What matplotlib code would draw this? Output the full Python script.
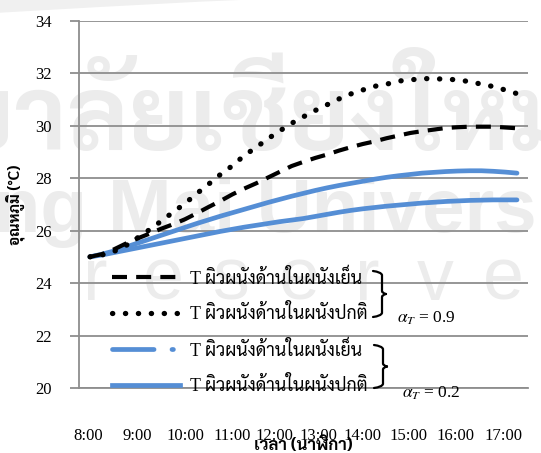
import numpy as np
import matplotlib
matplotlib.use('Agg')
import matplotlib.pyplot as plt
from matplotlib import font_manager as fm
from matplotlib.font_manager import FontProperties
from matplotlib.lines import Line2D
from matplotlib.path import Path
from matplotlib.patches import PathPatch, Polygon

# ---------------- data ----------------
hours = np.arange(8.0, 17.001, 0.25)          # 8:00 .. 17:00, every 15 min
t_cool_09 = [25.0, 25.1, 25.28, 25.5, 25.7, 25.88, 26.07, 26.24, 26.43, 26.66,
             26.9, 27.13, 27.38, 27.6, 27.8, 28.02, 28.24, 28.46, 28.62, 28.77,
             28.9, 29.05, 29.18, 29.3, 29.4, 29.52, 29.62, 29.72, 29.79, 29.85,
             29.91, 29.94, 29.96, 29.96, 29.96, 29.93, 29.9]
t_normal_09 = [25.0, 25.07, 25.2, 25.42, 25.72, 26.03, 26.36, 26.7, 27.03, 27.41,
               27.77, 28.14, 28.47, 28.86, 29.17, 29.5, 29.8, 30.09, 30.34, 30.58,
               30.8, 31.02, 31.21, 31.36, 31.5, 31.58, 31.7, 31.74, 31.8, 31.78,
               31.78, 31.74, 31.68, 31.58, 31.49, 31.36, 31.22]
t_cool_02 = [25.0, 25.1, 25.22, 25.37, 25.52, 25.67, 25.82, 25.97, 26.12, 26.27,
             26.41, 26.55, 26.68, 26.81, 26.94, 27.07, 27.19, 27.31, 27.42, 27.53,
             27.63, 27.72, 27.8, 27.88, 27.96, 28.03, 28.09, 28.14, 28.19, 28.22,
             28.25, 28.27, 28.28, 28.28, 28.26, 28.23, 28.19]
t_normal_02 = [25.0, 25.07, 25.16, 25.25, 25.34, 25.43, 25.52, 25.61, 25.7, 25.79,
               25.88, 25.97, 26.05, 26.13, 26.2, 26.27, 26.34, 26.4, 26.46, 26.54,
               26.62, 26.7, 26.77, 26.83, 26.88, 26.93, 26.97, 27.01, 27.05, 27.08,
               27.11, 27.13, 27.15, 27.16, 27.17, 27.17, 27.17]

y_ticks = [20, 22, 24, 26, 28, 30, 32, 34]
x_tick_labels = ['8:00', '9:00', '10:00', '11:00', '12:00', '13:00',
                 '14:00', '15:00', '16:00', '17:00']
series_labels = ['T ผิวผนังด้านในผนังเย็น', 'T ผิวผนังด้านในผนังปกติ',
                 'T ผิวผนังด้านในผนังเย็น', 'T ผิวผนังด้านในผนังปกติ']
alpha_labels = [r'$\alpha_T$ = 0.9', r'$\alpha_T$ = 0.2']
y_label = 'อุณหภูมิ (°C)'
x_label = 'เวลา (นาฬิกา)'

# ---------------- layout / style ----------------
x_label_pos = [7.958, 8.991, 10.003, 10.994, 11.88, 12.807, 13.735, 14.704, 15.695, 16.707]
W, H = 541, 453
BLUE = '#558ED5'
GRID = '#8e8e8e'

avail = {f.name for f in fm.fontManager.ttflist}
thai = next((n for n in ['Sarabun', 'Noto Serif Thai', 'Taviraj', 'Trirong',
                         'Noto Sans Thai Looped', 'Noto Sans Thai'] if n in avail), 'DejaVu Sans')
plt.rcParams['font.family'] = ['Liberation Serif', thai, 'DejaVu Sans']
plt.rcParams['mathtext.fontset'] = 'stix'

fig = plt.figure(figsize=(W / 100, H / 100), dpi=100)


def fp(px, py):
    return (px / W, 1 - py / H)


# watermark (behind everything)
wm = '#ececec'
fig.add_artist(Polygon([fp(0, 0), fp(0, 12.7), fp(100, 7), fp(200, 1.7), fp(240, 0)],
                       closed=True, transform=fig.transFigure, facecolor='#f0f0f0',
                       edgecolor='none', zorder=-6))
fig.text(*fp(575, 150), 'มหาวิทยาลัยเชียงใหม่', fontsize=74, color=wm,
         ha='right', va='baseline', family=[thai], weight='bold', zorder=-5)
fig.text(*fp(108, 232), 'Mai University', fontsize=55, color=wm,
         ha='left', va='baseline', family=['Liberation Sans'], weight='bold', zorder=-5)
fig.text(*fp(88, 232), 'Chiang', fontsize=55, color=wm,
         ha='right', va='baseline', family=['Liberation Sans'], weight='bold', zorder=-5)
for i, ch in enumerate('reserved'):
    fig.text(*fp(95 + 68 * i, 300), ch, fontsize=53, color=wm, ha='center',
             va='baseline', family=['Liberation Sans'], zorder=-5)

ax = fig.add_axes([79 / W, 1 - 388 / H, 449 / W, 367.3 / H])
ax.set_facecolor('none')

ax.plot(hours, t_cool_09, color='black', lw=3.0, linestyle=(0, (3.6, 2.2)),
        dash_capstyle='butt', zorder=4)
ax.plot(hours, t_normal_09, color='black', lw=3.8, linestyle=(0, (0.05, 2.4)),
        dash_capstyle='round', zorder=4)
ax.plot(hours, t_cool_02, color=BLUE, lw=3.4, solid_capstyle='round', zorder=3)
ax.plot(hours, t_normal_02, color=BLUE, lw=3.4, solid_capstyle='round', zorder=3)

ax.set_xlim(7.768, 17.232)
ax.set_ylim(20, 34)
ax.set_yticks(y_ticks)
ax.set_yticklabels([str(v) for v in y_ticks])
ax.set_xticks(x_label_pos)
ax.set_xticklabels(x_tick_labels)
ax.grid(axis='y', color=GRID, lw=1.3, zorder=1)
ax.set_axisbelow(True)
for s in ['top', 'right']:
    ax.spines[s].set_visible(False)
for s in ['left', 'bottom']:
    ax.spines[s].set_color(GRID)
    ax.spines[s].set_linewidth(1.3)
ax.tick_params(axis='y', length=6.5, width=1.3, color=GRID, pad=13, labelsize=12)
ax.tick_params(axis='x', length=0, pad=28.5, labelsize=12)

ax.set_ylabel(y_label, fontsize=11, family=[thai, 'Liberation Serif'], weight='bold')
ax.yaxis.set_label_coords(-0.12, 0.5)
ax.set_xlabel(x_label, fontsize=12, family=[thai, 'Liberation Serif'], weight='bold')
ax.xaxis.set_label_coords(0.5, -0.133)

handles = [
    Line2D([], [], color='black', lw=3.0, linestyle=(0, (3.6, 2.2))),
    Line2D([], [], color='black', lw=3.8, linestyle=(0, (0.05, 2.4)), dash_capstyle='round'),
    Line2D([], [], color=BLUE, lw=3.4, linestyle=(0, (8.8, 3.8, 0.3, 4)), dash_capstyle='round'),
    Line2D([], [], color=BLUE, lw=3.4),
]
leg = ax.legend(handles, series_labels, loc='upper left', bbox_to_anchor=(0.0735, 0.326),
                frameon=False, handlelength=3.85, handletextpad=0.55, labelspacing=0.95,
                borderpad=0, borderaxespad=0,
                prop=FontProperties(family=['Liberation Serif', thai], size=12.8))


def brace(x0, y0, y1, w=9, tip=4):
    ym = (y0 + y1) / 2
    xr = x0 + w
    verts = [fp(x0, y0), fp(xr - 1, y0 + 1), fp(xr, y0 + 4), fp(xr, ym - 3),
             fp(xr, ym - 1), fp(xr + tip, ym), fp(xr + tip, ym),
             fp(xr, ym + 1), fp(xr, ym + 3), fp(xr, y1 - 4),
             fp(xr - 1, y1 - 1), fp(x0, y1)]
    codes = [Path.MOVETO, Path.CURVE3, Path.CURVE3, Path.LINETO,
             Path.CURVE3, Path.CURVE3, Path.MOVETO,
             Path.CURVE3, Path.CURVE3, Path.LINETO,
             Path.CURVE3, Path.CURVE3]
    fig.add_artist(PathPatch(Path(verts, codes), transform=fig.transFigure,
                             fill=False, lw=1.6, color='black', capstyle='round'))


brace(373, 271, 317)
brace(374, 345, 388)
fig.text(*fp(397, 318), alpha_labels[0], fontsize=12.5, ha='left', va='center')
fig.text(*fp(402, 393), alpha_labels[1], fontsize=12.5, ha='left', va='center')

fig.savefig('out.png', dpi=100)
